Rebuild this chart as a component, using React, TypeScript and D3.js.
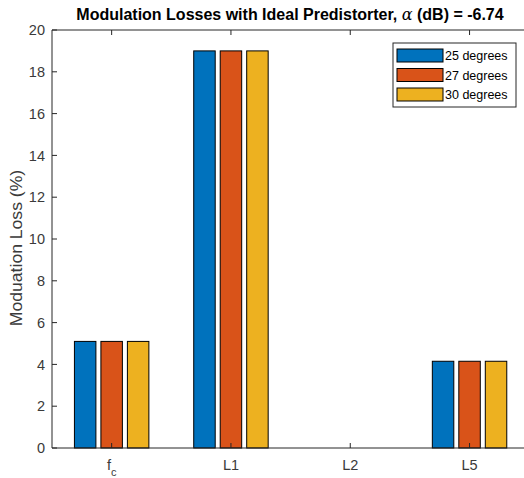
import React from "react";
import * as d3 from "d3";

const categories = ["fc", "L1", "L2", "L5"];
const seriesNames = ["25 degrees", "27 degrees", "30 degrees"];
const values25 = [5.1, 19.0, 0, 4.15];
const values27 = [5.1, 19.0, 0, 4.15];
const values30 = [5.1, 19.0, 0, 4.15];
const yTicks = [0, 2, 4, 6, 8, 10, 12, 14, 16, 18, 20];
const colors = ["#0072BD", "#D95319", "#EDB120"];

export default function App() {
  const W = 524, H = 478;
  const left = 52, top = 30, bottom = 448;
  const x = d3.scaleLinear().domain([0.5, 4.5]).range([left, left + 4 * 119.3]);
  const y = d3.scaleLinear().domain([0, 20]).range([bottom, top]);
  const series = [values25, values27, values30];
  const unit = x(2) - x(1);
  const barStep = 0.222;
  const barW = 0.18;
  const right = x(4.5);
  const font = "'Liberation Sans', Arial, sans-serif";
  return (
    <svg width={W} height={H} style={{ position: "absolute", left: 0, top: 0, background: "#fff" }}>
      <rect x={0} y={0} width={W} height={H} fill="#fff" />
      {series.map((vals, si) =>
        vals.map((v, ci) => {
          if (v <= 0) return null;
          const cx = x(ci + 1) + (si - 1) * barStep * unit;
          const w = barW * unit;
          return (
            <rect key={`${si}-${ci}`} x={cx - w / 2} y={y(v)} width={w} height={y(0) - y(v)}
              fill={colors[si]} stroke="#000" strokeWidth={1} />
          );
        })
      )}
      <line x1={left} x2={right} y1={bottom} y2={bottom} stroke="#262626" />
      <line x1={left} x2={right} y1={top} y2={top} stroke="#262626" />
      <line x1={left} x2={left} y1={top} y2={bottom} stroke="#262626" />
      {yTicks.map((t) => (
        <g key={t}>
          <line x1={left} x2={left + 5} y1={y(t)} y2={y(t)} stroke="#262626" />
          <text x={left - 7} y={y(t)} dy="0.36em" textAnchor="end" fontSize={14.5} fill="#3a3a3a" fontFamily={font}>{t}</text>
        </g>
      ))}
      {categories.map((c, i) => (
        <g key={c}>
          <line x1={x(i + 1)} x2={x(i + 1)} y1={bottom} y2={bottom - 5} stroke="#262626" />
          <line x1={x(i + 1)} x2={x(i + 1)} y1={top} y2={top + 5} stroke="#262626" />
          {c === "fc" ? (
            <text x={x(i + 1)} y={bottom + 22} textAnchor="middle" fontSize={14.5} fill="#3a3a3a" fontFamily={font}>
              f<tspan fontSize={11} dy={6}>c</tspan>
            </text>
          ) : (
            <text x={x(i + 1)} y={bottom + 22} textAnchor="middle" fontSize={14.5} fill="#3a3a3a" fontFamily={font}>{c}</text>
          )}
        </g>
      ))}
      <text transform={`translate(22,${248}) rotate(-90) scale(1.1,1)`} textAnchor="middle" fontSize={16} fill="#3a3a3a" fontFamily={font}>
        Moduation Loss (%)
      </text>
      <text x={290} y={20} textAnchor="middle" fontSize={16} fontWeight="bold" fill="#000" fontFamily={font}>
        Modulation Losses with Ideal Predistorter, <tspan fontFamily="'DejaVu Serif', serif" fontStyle="italic" fontWeight="normal">α</tspan> (dB) = -6.74
      </text>
      <rect x={393} y={43} width={123} height={64} fill="#fff" stroke="#262626" strokeWidth={1} />
      {seriesNames.map((n, i) => (
        <g key={n}>
          <rect x={397} y={49 + i * 19.5} width={46} height={13} fill={colors[i]} stroke="#000" />
          <text x={445} y={49 + i * 19.5 + 6.5} dy="0.36em" fontSize={12.5} fill="#000" fontFamily={font}>{n}</text>
        </g>
      ))}
    </svg>
  );
}
